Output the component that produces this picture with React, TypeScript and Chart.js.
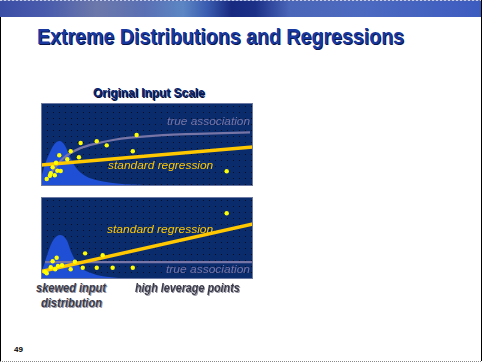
import React, { useEffect, useLayoutEffect, useRef } from "react";
import { Chart, registerables } from "chart.js";

Chart.register(...registerables);

// ---- Data (x: 0..100 across the panel, y: 0..100 up the panel) ----
const p1Points = [
  { x: 45.1, y: 61.4 }, { x: 18.7, y: 51.8 }, { x: 26.3, y: 53.9 }, { x: 31.0, y: 49.0 },
  { x: 14.0, y: 41.8 }, { x: 43.3, y: 41.8 }, { x: 8.6, y: 37.0 }, { x: 17.9, y: 34.6 },
  { x: 12.4, y: 32.2 }, { x: 7.1, y: 28.1 }, { x: 5.5, y: 22.5 }, { x: 7.7, y: 18.4 },
  { x: 9.3, y: 18.1 }, { x: 4.6, y: 15.3 }, { x: 6.5, y: 12.9 }, { x: 4.2, y: 12.4 },
  { x: 2.7, y: 8.4 }, { x: 87.6, y: 17.7 },
];
const p1Regression = [{ x: 0, y: 25.3 }, { x: 100, y: 47.0 }];
const p1TrueAssoc = [
  { x: 3.5, y: 12 }, { x: 10.5, y: 33.4 }, { x: 18.4, y: 45.4 }, { x: 26.3, y: 51.4 },
  { x: 34, y: 55.4 }, { x: 42, y: 58.2 }, { x: 57.5, y: 61.4 }, { x: 73.4, y: 62.7 },
  { x: 98.6, y: 64.5 },
];
const p1Density = [
  { x: 0, y: 9.6 }, { x: 1.1, y: 19.3 }, { x: 3.4, y: 36 }, { x: 6.2, y: 50 },
  { x: 8.8, y: 54.2 }, { x: 11.2, y: 49 }, { x: 13.5, y: 36 }, { x: 16.5, y: 22 },
  { x: 21, y: 12 }, { x: 27, y: 6.5 }, { x: 36, y: 3 }, { x: 50, y: 1 },
  { x: 62, y: 0 }, { x: 100, y: 0 },
];

const p2Points = [
  { x: 87.6, y: 80.1 }, { x: 20.8, y: 31.3 }, { x: 29.1, y: 28.9 }, { x: 7.4, y: 26.0 },
  { x: 5.5, y: 21.6 }, { x: 16.0, y: 21.1 }, { x: 9.9, y: 16.7 }, { x: 8.0, y: 15.9 },
  { x: 4.6, y: 14.3 }, { x: 19.7, y: 13.8 }, { x: 26.3, y: 13.8 }, { x: 33.8, y: 13.8 },
  { x: 43.3, y: 13.8 }, { x: 14.0, y: 11.8 }, { x: 6.7, y: 11.8 }, { x: 1.9, y: 8.9 },
  { x: 2.7, y: 7.0 },
];
const p2Regression = [{ x: 0, y: 9.1 }, { x: 100, y: 67.1 }];
const p2TrueAssoc = [{ x: 1.9, y: 20.7 }, { x: 99.5, y: 20.7 }];
const p2Density = [
  { x: 0, y: 8 }, { x: 0.6, y: 11 }, { x: 3.4, y: 33.3 }, { x: 5.8, y: 47.6 },
  { x: 9, y: 53.7 }, { x: 12.1, y: 47.6 }, { x: 14.5, y: 31.3 }, { x: 17.6, y: 17.1 },
  { x: 23.9, y: 7 }, { x: 33.3, y: 2 }, { x: 51, y: 0 }, { x: 100, y: 0 },
];

const TITLE = "Extreme Distributions and Regressions";
const SUBTITLE = "Original Input Scale";
const LABEL_TRUE = "true association";
const LABEL_REG = "standard regression";
const LABEL_SKEW = ["skewed input", "distribution"];
const LABEL_LEVERAGE = "high leverage points";
const PAGE_NO = "49";

const BG = "#0b2c6c";
const DENSITY_C = "#1f4fd4";
const REG_C = "#ffc800";
const TRUE_C = "#7774a6";
const POINT_C = "#ffff00";

const panelBg = {
  id: "panelBg",
  beforeDraw(chart: any) {
    const { ctx, width, height } = chart;
    ctx.save();
    ctx.fillStyle = BG;
    ctx.fillRect(0, 0, width, height);
    ctx.fillStyle = "rgba(0,0,0,0.7)";
    for (let y = 3; y < height; y += 6) {
      for (let x = 3 + ((y / 6) % 2 ? 3 : 0); x < width; x += 6) {
        ctx.fillRect(x, y, 1, 1);
      }
    }
    ctx.restore();
  },
  afterDraw(chart: any) {
    const { ctx, width, height } = chart;
    ctx.save();
    ctx.strokeStyle = "#6c7aa4";
    ctx.lineWidth = 1;
    ctx.strokeRect(0.5, 0.5, width - 1, height - 1);
    ctx.restore();
  },
};

function Panel(props: {
  left: number; top: number; w: number; h: number;
  points: any[]; reg: any[]; trueAssoc: any[]; density: any[];
}) {
  const ref = useRef<HTMLCanvasElement>(null);
  useEffect(() => {
    if (!ref.current) return;
    const chart = new Chart(ref.current, {
      type: "line",
      data: {
        datasets: [
          { data: props.points, showLine: false, pointRadius: 2.2, pointBackgroundColor: POINT_C, pointBorderWidth: 0, order: 0 } as any,
          { data: props.reg, borderColor: REG_C, borderWidth: 3.5, pointRadius: 0, fill: false, order: 1 },
          { data: props.trueAssoc, borderColor: TRUE_C, borderWidth: 2.2, pointRadius: 0, fill: false, cubicInterpolationMode: "monotone", order: 2 },
          { data: props.density, borderWidth: 0, borderColor: "rgba(0,0,0,0)", backgroundColor: DENSITY_C, pointRadius: 0, fill: "start", cubicInterpolationMode: "monotone", order: 3 },
        ],
      },
      options: {
        animation: false,
        responsive: false,
        maintainAspectRatio: false,
        events: [],
        layout: { padding: 0, autoPadding: false } as any,
        plugins: { legend: { display: false }, tooltip: { enabled: false } },
        scales: {
          x: { type: "linear", min: 0, max: 100, display: false },
          y: { type: "linear", min: 0, max: 100, display: false },
        },
      },
      plugins: [panelBg],
    });
    return () => chart.destroy();
  }, []);
  return (
    <canvas
      ref={ref}
      width={props.w}
      height={props.h}
      style={{ position: "absolute", left: props.left, top: props.top, width: props.w, height: props.h }}
    />
  );
}

// Text squeezed horizontally to a target width (the slide uses a narrow face)
function FitText(props: { left: number; top: number; width: number; style: any; children: any; center?: boolean }) {
  const ref = useRef<HTMLSpanElement>(null);
  useLayoutEffect(() => {
    const el = ref.current;
    if (!el) return;
    el.style.transform = "none";
    const w = el.offsetWidth;
    if (w > 0) el.style.transform = `scaleX(${props.width / w})`;
  }, []);
  return (
    <span
      ref={ref}
      style={{
        position: "absolute", left: props.left, top: props.top, display: "inline-block",
        whiteSpace: "nowrap", transformOrigin: "0 0", ...props.style,
      }}
    >{props.children}</span>
  );
}

export default function App() {
  const inFont = { fontFamily: "'Liberation Sans', Arial, sans-serif", fontStyle: "italic", fontSize: 11, lineHeight: "12px" };
  const capFont = { fontFamily: "'Liberation Sans', Arial, sans-serif", fontWeight: 700, fontStyle: "italic", fontSize: 12, lineHeight: "14px", color: "#3a3a48", textShadow: "1px 1px 0 #9a9aa8" };
  return (
    <div style={{ position: "absolute", left: 0, top: 0, width: 482, height: 362, background: "#fff", overflow: "hidden" }}>
      <div style={{
        position: "absolute", left: 0, top: 0, width: 482, height: 17,
        background: "linear-gradient(90deg, #3a4ea6 0%, #4a5cac 10%, #6c78aa 20%, #5a70b4 30%, #5c86c4 38%, #3a5cb0 43%, #172a80 48%, #1c3088 53%, #4a66b8 60%, #4c6ac0 75%, #3d5cc0 100%)",
      }} />
      <div style={{ position: "absolute", left: 0, top: 0, width: 482, height: 1, background: "repeating-linear-gradient(90deg,#c8d0e8 0 2px,#6070b0 2px 4px)" }} />
      <div style={{ position: "absolute", left: 0, top: 17, width: 1, height: 345, background: "#000" }} />
      <div style={{ position: "absolute", left: 481, top: 0, width: 1, height: 362, background: "#000" }} />
      <div style={{ position: "absolute", left: 0, top: 361, width: 482, height: 1, background: "repeating-linear-gradient(90deg,#888 0 1px,#fff 1px 2px)" }} />

      <FitText left={37} top={24} width={367} style={{
        fontFamily: "'Liberation Sans', Arial, sans-serif", fontWeight: 700,
        fontSize: 22, lineHeight: "26px", color: "#1838a0", textShadow: "1px 1px 0 #0a1648",
      }}>{TITLE}</FitText>

      <FitText left={93} top={86} width={112} style={{
        fontFamily: "'Liberation Sans', Arial, sans-serif",
        fontWeight: 700, fontSize: 12, lineHeight: "14px", color: "#0c2470", textShadow: "1px 1px 0 #06123a",
      }}>{SUBTITLE}</FitText>

      <Panel left={41} top={103} w={212} h={83} points={p1Points} reg={p1Regression} trueAssoc={p1TrueAssoc} density={p1Density} />
      <Panel left={41} top={197} w={212} h={82} points={p2Points} reg={p2Regression} trueAssoc={p2TrueAssoc} density={p2Density} />

      <FitText left={167} top={115} width={83} style={{ ...inFont, color: TRUE_C }}>{LABEL_TRUE}</FitText>
      <FitText left={108} top={159} width={105} style={{ ...inFont, color: REG_C }}>{LABEL_REG}</FitText>
      <FitText left={107} top={223} width={106} style={{ ...inFont, color: REG_C }}>{LABEL_REG}</FitText>
      <FitText left={166} top={263} width={84} style={{ ...inFont, color: TRUE_C }}>{LABEL_TRUE}</FitText>

      <FitText left={36} top={281} width={70} style={capFont}>{LABEL_SKEW[0]}</FitText>
      <FitText left={41} top={296} width={61} style={capFont}>{LABEL_SKEW[1]}</FitText>
      <FitText left={135} top={281} width={105} style={capFont}>{LABEL_LEVERAGE}</FitText>

      <div style={{ position: "absolute", left: 14, top: 345, fontFamily: "'Liberation Sans', Arial, sans-serif", fontWeight: 700, fontSize: 8, lineHeight: "10px", color: "#000" }}>{PAGE_NO}</div>
    </div>
  );
}
